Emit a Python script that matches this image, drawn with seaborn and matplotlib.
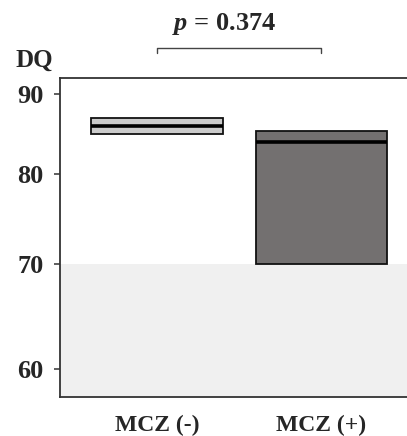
import numpy as np
import pandas as pd
import matplotlib
matplotlib.use("Agg")
import matplotlib.pyplot as plt
import matplotlib.ticker as mticker
import seaborn as sns

# Data (quartile-defining values)
categories = ["MCZ (-)", "MCZ (+)"]
mcz_neg = [84.8, 84.8, 85.9, 86.8, 86.8]
mcz_pos = [70.0, 70.0, 83.9, 85.2, 85.2]
box_colors = ["#cbcbcb", "#737070"]
yticks = [60, 70, 80, 90]
threshold = 70
p_text = "$\\mathbfit{p}$ = 0.374"

df = pd.DataFrame({
    "group": [categories[0]] * len(mcz_neg) + [categories[1]] * len(mcz_pos),
    "DQ": mcz_neg + mcz_pos,
})

sns.set_style("white")
plt.rcParams["font.family"] = ["Liberation Serif", "DejaVu Serif"]
plt.rcParams["mathtext.fontset"] = "custom"
plt.rcParams["mathtext.rm"] = "Liberation Serif"
plt.rcParams["mathtext.it"] = "Liberation Serif:italic"
plt.rcParams["mathtext.bf"] = "Liberation Serif:bold"
plt.rcParams["mathtext.bfit"] = "Liberation Serif:italic:bold"

fig = plt.figure(figsize=(4.07, 4.36), dpi=100)
ax = fig.add_axes([0.1474, 0.0894, 0.8526, 0.7317])

ax.set_yscale("log")
ax.set_ylim(57.57, 92.14)

ax.axhspan(40, threshold, color="#f0f0f0", zorder=0, lw=0)

sns.boxplot(data=df, x="group", y="DQ", hue="group", palette=box_colors,
            order=categories, width=0.8, whis=0, showcaps=False, showfliers=False,
            linecolor="#111111", linewidth=1.3, legend=False,
            boxprops=dict(zorder=3),
            medianprops=dict(color="#000000", linewidth=2.6, zorder=4),
            whiskerprops=dict(linewidth=0), ax=ax)
ax.set_xlim(-0.588, 1.52)

ax.yaxis.set_major_locator(mticker.FixedLocator(yticks))
ax.yaxis.set_minor_locator(mticker.NullLocator())
ax.yaxis.set_major_formatter(mticker.FixedFormatter([str(t) for t in yticks]))

for s in ["left", "top", "bottom"]:
    ax.spines[s].set_color("#333333")
    ax.spines[s].set_linewidth(1.3)
ax.spines["right"].set_visible(False)

ax.tick_params(axis="y", which="major", left=True, length=4, width=1.1,
               color="#333333", pad=8, labelsize=19)
ax.tick_params(axis="x", bottom=False, pad=9, labelsize=17)
for lbl in ax.get_yticklabels() + ax.get_xticklabels():
    lbl.set_fontweight("bold")
ax.set_xlabel("")
ax.set_ylabel("")

# significance bracket
trans = ax.get_xaxis_transform()
ax.plot([0, 0, 1, 1], [1.078, 1.094, 1.094, 1.078], transform=trans,
        color="#444444", lw=1.0, clip_on=False)
ax.text(0.41, 1.15, p_text, transform=trans, ha="center", va="baseline",
        fontsize=19, fontweight="bold")

fig.text(34 / 407, 1 - 67 / 436, "DQ", ha="center", va="baseline",
         fontsize=18, fontweight="bold")

fig.savefig("out.png", dpi=100)
